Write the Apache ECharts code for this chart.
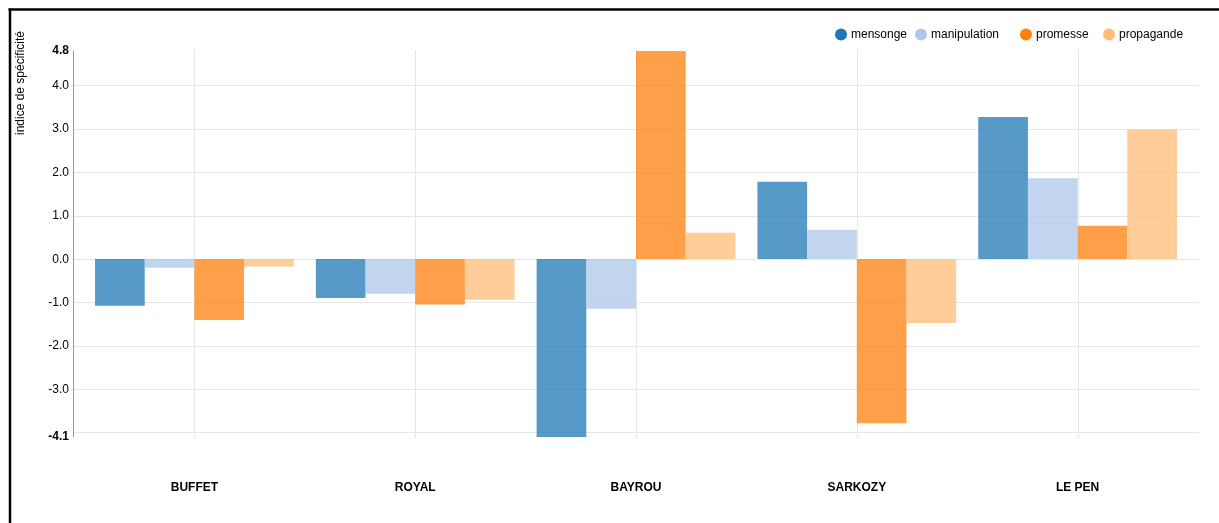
<!DOCTYPE html>
<html>
<head>
<meta charset="utf-8">
<script src="https://cdn.jsdelivr.net/npm/echarts@6/dist/echarts.min.js"></script>
<style>html,body{margin:0;padding:0;background:#fff;}#chart{width:1219px;height:523px;}</style>
</head>
<body>
<div id="chart"></div>
<script>
const categories = ['BUFFET', 'ROYAL', 'BAYROU', 'SARKOZY', 'LE PEN'];
const mensonge = [-1.08, -0.90, -4.12, 1.79, 3.29];
const manipulation = [-0.20, -0.80, -1.15, 0.68, 1.87];
const promesse = [-1.41, -1.05, 4.82, -3.80, 0.77];
const propagande = [-0.17, -0.94, 0.61, -1.48, 3.00];
const seriesNames = ['mensonge', 'manipulation', 'promesse', 'propagande'];
const colors = ['#1f77b4', '#aec7e8', '#ff7f0e', '#ffbb78'];
const yMin = -4.12, yMax = 4.82;
const yTitle = 'indice de spécificité';

const FONT = '"Liberation Sans", Arial, sans-serif';
const chart = echarts.init(document.getElementById('chart'));
const dataSets = [mensonge, manipulation, promesse, propagande];
const legendLefts = [835, 915, 1020, 1103];

const option = {
  animation: false,
  textStyle: { fontFamily: FONT },
  grid: [
    { left: 73, right: 20, top: 85.7, bottom: 523 - 432.7, containLabel: false },
    { left: 84, right: 1219 - 1188, top: 51, bottom: 523 - 437, containLabel: false },
    { left: 194.4, right: 1219 - 1077.8, top: 50, bottom: 523 - 438, containLabel: false }
  ],
  xAxis: [
    { gridIndex: 0, type: 'category', data: categories, show: false },
    { gridIndex: 1, type: 'category', data: categories,
      axisLine: { show: false }, axisTick: { show: false }, splitLine: { show: false },
      axisLabel: { margin: 45, color: '#000', fontWeight: 'bold', fontSize: 12, fontFamily: FONT } },
    { gridIndex: 2, type: 'category', data: categories, boundaryGap: false,
      axisLine: { show: false }, axisTick: { show: false }, axisLabel: { show: false },
      splitLine: { show: true, lineStyle: { color: '#e6e6e6', width: 1 } } }
  ],
  yAxis: [
    { gridIndex: 0, type: 'value', min: -4, max: 4, interval: 1,
      axisLine: { show: false }, axisTick: { show: false },
      splitLine: { show: true, lineStyle: { color: '#e6e6e6', width: 1 } },
      axisLabel: { showMinLabel: false, margin: 4, color: '#000', fontSize: 12, fontFamily: FONT,
        formatter: v => v.toFixed(1) } },
    { gridIndex: 1, type: 'value', min: yMin, max: yMax, interval: 1, offset: 11,
      axisLine: { show: true, lineStyle: { color: '#999', width: 1 } },
      axisTick: { show: false }, splitLine: { show: false },
      axisLabel: { margin: 4, color: '#000', fontSize: 12, fontWeight: 'bold', fontFamily: FONT,
        formatter: v => (Math.abs(v - yMin) < 1e-6 || Math.abs(v - yMax) < 1e-6) ? v.toFixed(1) : '' } },
    { gridIndex: 2, type: 'value', min: yMin, max: yMax, show: false }
  ],
  legend: seriesNames.map((n, i) => ({
    data: [n], left: legendLefts[i], top: 28.5, icon: 'circle', itemWidth: 12, itemHeight: 12,
    itemGap: 0, padding: 0, itemStyle: { opacity: 1 },
    textStyle: { fontSize: 12, color: '#000', fontFamily: FONT, padding: [0, 0, 0, -1] }
  })),
  graphic: [
    { type: 'text', x: 21, y: 83, rotation: Math.PI / 2,
      style: { text: yTitle, font: '12px ' + FONT, fill: '#000', align: 'center', verticalAlign: 'middle' } },
    { type: 'line', shape: { x1: 8.5, y1: 9.5, x2: 1219, y2: 9.5 }, style: { stroke: '#000', lineWidth: 2.5 } },
    { type: 'line', shape: { x1: 10, y1: 8.5, x2: 10, y2: 523 }, style: { stroke: '#000', lineWidth: 2.5 } }
  ],
  series: seriesNames.map((n, i) => ({
    name: n, type: 'bar', xAxisIndex: 1, yAxisIndex: 1, data: dataSets[i],
    barGap: '0%', barCategoryGap: '10%', clip: false,
    itemStyle: { color: colors[i], opacity: 0.75 },
    emphasis: { disabled: true }
  }))
};
chart.setOption(option);
</script>
</body>
</html>
